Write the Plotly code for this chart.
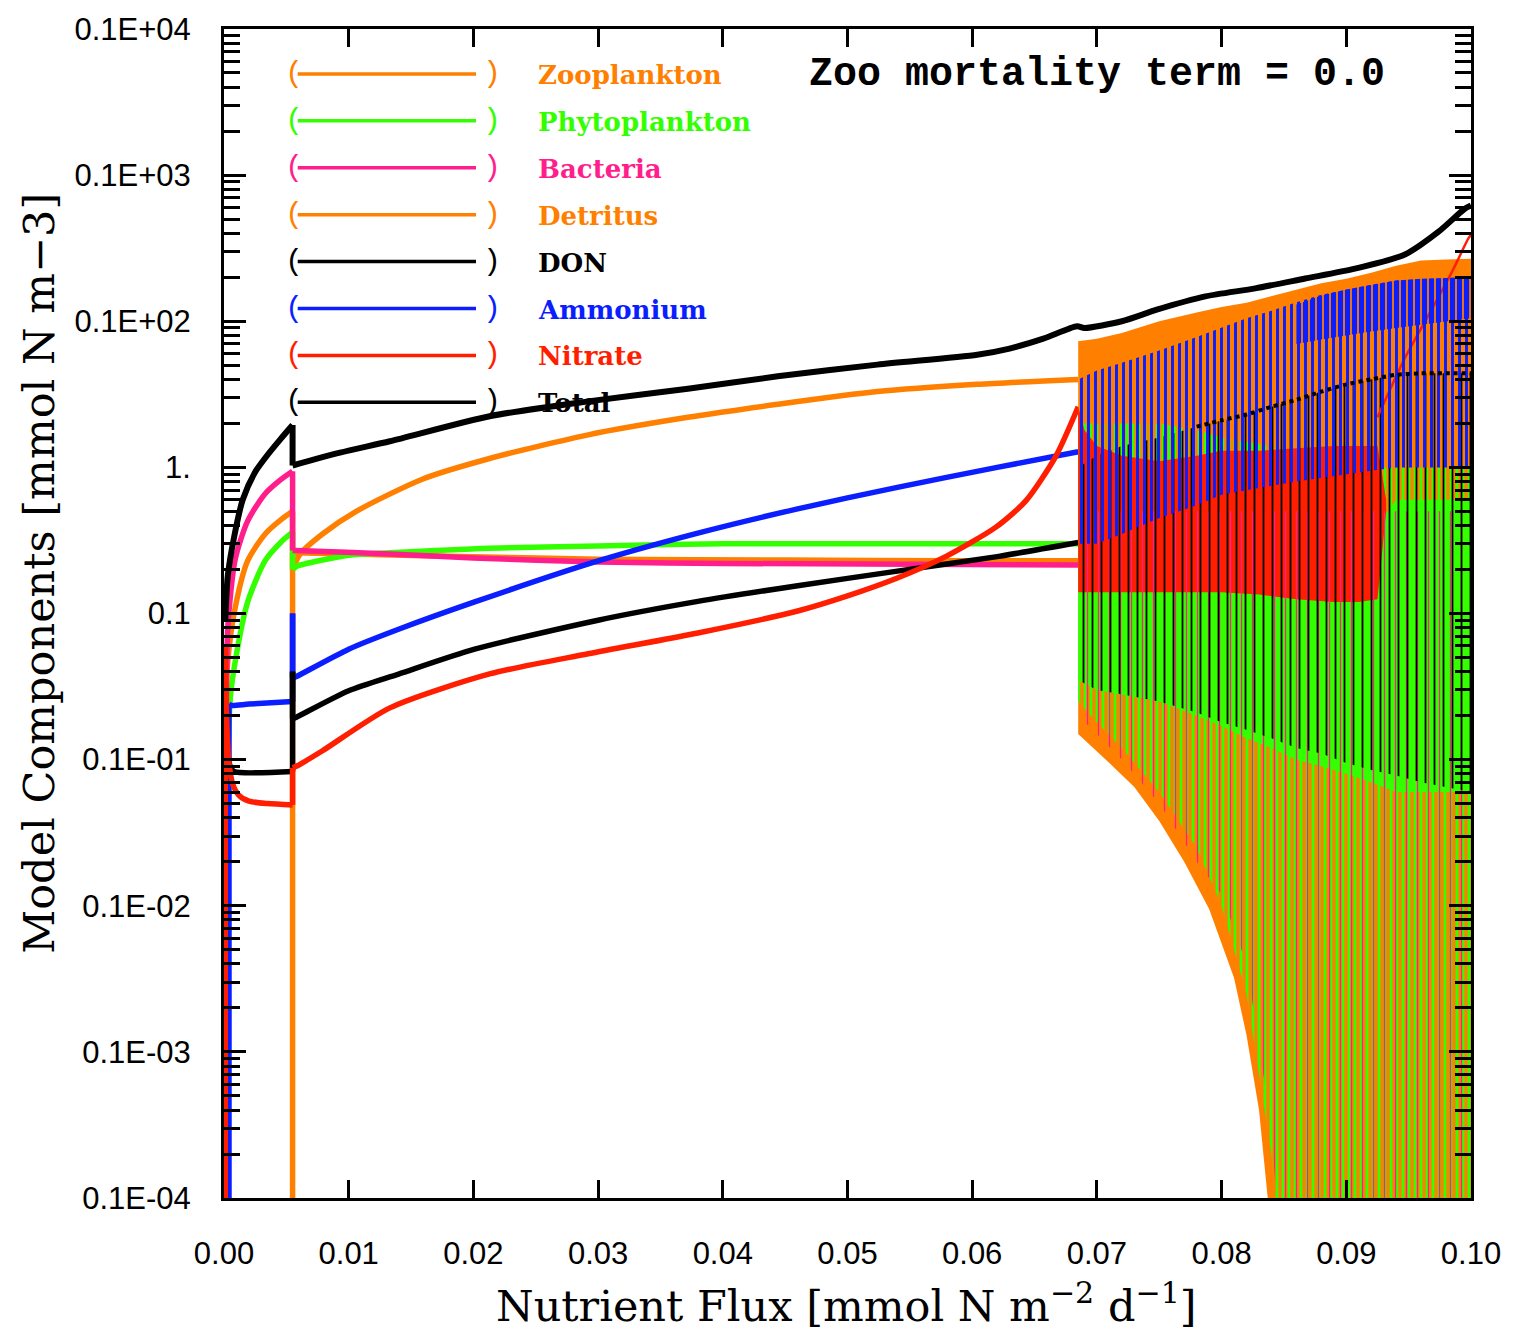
import plotly.graph_objects as go

# ---------------- colours ----------------
ORANGE = "#FF8000"
GREEN = "#33FF00"
PINK = "#FF1E8C"
BLUE = "#0A1EFF"
RED = "#FF1E00"
BLACK = "#000000"

# ---------------- smooth (pre-chaos) branches ----------------
det_x = [0.0001, 0.0003, 0.0009, 0.0019, 0.0033, 0.0046, 0.0055, 0.0055, 0.0061, 0.0079,
         0.0106, 0.0159, 0.0213, 0.0292, 0.0372, 0.0444, 0.0524, 0.0604, 0.0685]
det_y = [0.02, 0.047, 0.11, 0.23, 0.35, 0.44, 0.5, 0.2, 0.255, 0.35,
         0.5, 0.83, 1.15, 1.67, 2.2, 2.7, 3.3, 3.7, 4.0]

zoo_x = [0.0055, 0.0055, 0.0058, 0.0100, 0.0200, 0.0300, 0.0450, 0.0600, 0.0685]
zoo_y = [1e-7, 0.26, 0.26, 0.255, 0.245, 0.235, 0.232, 0.23, 0.23]

phy_x = [0.0002, 0.0005, 0.0009, 0.0019, 0.0033, 0.0046, 0.0055, 0.0055, 0.0058, 0.0100,
         0.0133, 0.0213, 0.0300, 0.0400, 0.0685]
phy_y = [0.003, 0.026, 0.047, 0.12, 0.23, 0.31, 0.36, 0.2, 0.21, 0.25,
         0.26, 0.28, 0.29, 0.30, 0.30]

bac_x = [0.0002, 0.0003, 0.0009, 0.0019, 0.0033, 0.0046, 0.0055, 0.0055, 0.0058, 0.0133,
         0.0200, 0.0300, 0.0400, 0.0685]
bac_y = [0.01, 0.079, 0.235, 0.43, 0.66, 0.83, 0.94, 0.27, 0.27, 0.255,
         0.24, 0.225, 0.22, 0.215]

nh4_x = [0.0004, 0.0004, 0.0006, 0.0020, 0.0055, 0.0055, 0.0055, 0.0058, 0.0100, 0.0140,
         0.0201, 0.0300, 0.0380, 0.0460, 0.0540, 0.0620, 0.0685]
nh4_y = [1e-7, 0.024, 0.0235, 0.024, 0.025, 0.1, 0.036, 0.037, 0.057, 0.078,
         0.12, 0.229, 0.355, 0.52, 0.73, 1.0, 1.28]

don_x = [0.0002, 0.0005, 0.0008, 0.0055, 0.0055, 0.0055, 0.0058, 0.0100, 0.0140, 0.0201,
         0.0300, 0.0380, 0.0460, 0.0540, 0.0620, 0.0685]
don_y = [0.012, 0.009, 0.0083, 0.0083, 0.04, 0.019, 0.0195, 0.0296, 0.0385, 0.057,
         0.09, 0.121, 0.155, 0.195, 0.245, 0.306]

no3_x = [0.0001, 0.0001, 0.0002, 0.0004, 0.0007, 0.0012, 0.0020, 0.0035, 0.0055, 0.0055,
         0.0058, 0.0079, 0.0133, 0.0213, 0.0292, 0.0380, 0.0460, 0.0500, 0.0540, 0.0579,
         0.0619, 0.0643, 0.0667, 0.0685]
no3_y = [1e-7, 0.06, 0.02, 0.0095, 0.0068, 0.0057, 0.0052, 0.005, 0.0049, 0.0088,
         0.009, 0.0115, 0.0226, 0.0386, 0.053, 0.0736, 0.104, 0.132, 0.175, 0.246,
         0.39, 0.59, 1.19, 2.6]

tot_x = [0.0001, 0.0003, 0.0008, 0.0015, 0.0025, 0.0035, 0.0045, 0.0055, 0.0055, 0.0093,
         0.0133, 0.0213, 0.0292, 0.0372, 0.0444, 0.0524, 0.0604, 0.0630, 0.0657, 0.0684,
         0.0690, 0.0720, 0.0748, 0.0787, 0.0827, 0.0867, 0.0907, 0.0947, 0.0974, 0.0995,
         0.1000]
tot_y = [0.09, 0.18, 0.33, 0.6, 0.93, 1.22, 1.55, 1.95, 1.03, 1.26,
         1.51, 2.24, 2.83, 3.45, 4.2, 5.05, 5.9, 6.5, 7.6, 9.25,
         9.0, 10.0, 12.0, 14.8, 16.8, 19.6, 22.9, 28.6, 41.0, 58.9,
         62.0]

# ---------------- oscillatory regime: envelopes ----------------
chaos_x = [0.0685, 0.070, 0.072, 0.075, 0.078, 0.080, 0.082, 0.084,
           0.086, 0.088, 0.090, 0.092, 0.094, 0.096, 0.098, 0.100]

zoo_env_x = [0.0685, 0.0695, 0.0710, 0.0730, 0.0750, 0.0770, 0.0790, 0.0810,
             0.0820, 0.0830, 0.0837, 0.0850, 0.1000]
zoo_env_lo = [0.015, 0.0125, 0.0095, 0.0065, 0.0038, 0.0020, 0.00095, 0.00032,
              0.00013, 0.00004, 0.00001, 1e-7, 1e-7]
zoo_env_hi = [1.5, 1.5, 1.5, 1.6, 1.7, 1.8, 1.9, 2.0, 2.0, 2.0, 2.0, 2.0, 2.0]

det_env_lo = [1.0, 1.0, 1.0, 1.0, 1.0, 1.0, 1.0, 1.0, 1.0, 1.0, 1.0, 1.0, 1.0, 1.0, 1.0, 1.0]
det_env_hi = [7.3, 7.6, 8.3, 10.0, 11.5, 12.5, 13.4, 14.8, 16.5, 18.2, 19.5, 21.5, 24.0, 26.0, 26.5, 26.8]

phy_env_lo = [0.025, 0.018, 0.012, 0.006, 0.0025, 0.001, 0.00025, 0.00002,
              1e-7, 1e-7, 1e-7, 1e-7, 1e-7, 1e-7, 1e-7, 1e-7]
phy_env_hi = [2.0, 2.0, 2.0, 2.0, 1.8, 1.6, 1.5, 1.4, 1.3, 1.2, 1.1, 1.0, 1.0, 1.0, 1.0, 1.0]

phy_core_lo = [0.035, 0.03, 0.028, 0.025, 0.02, 0.017, 0.014, 0.012,
               0.01, 0.009, 0.008, 0.007, 0.006, 0.006, 0.006, 0.006]
phy_core_hi = [0.3, 0.3, 0.3, 0.3, 0.3, 0.3, 0.3, 0.3, 0.3, 0.3, 0.3, 0.35, 0.6, 0.6, 0.6, 0.6]

no3_env_x = [0.0685, 0.0690, 0.0700, 0.0720, 0.0750, 0.0780, 0.0800, 0.0830,
             0.0860, 0.0890, 0.0910, 0.0925, 0.0932]
no3_env_lo = [0.14, 0.14, 0.14, 0.14, 0.14, 0.14, 0.14, 0.135, 0.125, 0.12, 0.12, 0.125, 0.5]
no3_env_hi = [2.6, 1.8, 1.4, 1.2, 1.1, 1.2, 1.3, 1.3, 1.35, 1.4, 1.4, 1.4, 0.6]

no3_max_x = [0.0925, 0.0947, 0.0966, 0.0985, 0.0998, 0.1000]
no3_max_y = [2.2, 5.6, 11.0, 22.0, 37.0, 39.0]

don_env_lo = [0.035, 0.03, 0.028, 0.025, 0.021, 0.018, 0.016, 0.014,
              0.012, 0.011, 0.0095, 0.0085, 0.0078, 0.007, 0.0065, 0.006]
don_env_hi = [1.0, 1.2, 1.4, 1.6, 1.9, 2.1, 2.3, 2.6, 2.9, 3.3, 3.7, 4.0, 4.3, 4.4, 4.4, 4.4]

nh4_env_lo = [0.3, 0.3, 0.35, 0.45, 0.55, 0.65, 0.7, 0.75, 0.8, 0.85, 0.9, 0.95, 1.0, 1.0, 1.0, 1.0]
nh4_env_hi = [4.0, 4.6, 5.2, 6.3, 7.8, 9.0, 10.5, 11.8, 13.5, 15.2, 16.5, 17.8, 19.0, 19.5, 19.8, 20.0]

nh4_core_x = [0.0860, 0.0880, 0.0900, 0.0920, 0.0940, 0.0960, 0.0980, 0.1000]
nh4_core_lo = [7.0, 7.5, 8.0, 8.5, 9.0, 9.5, 10.0, 10.5]
nh4_core_hi = [13.0, 15.0, 16.5, 17.8, 19.0, 19.5, 19.8, 20.0]

bac_env_lo = [0.02, 0.015, 0.01, 0.005, 0.002, 0.0012, 0.0004, 0.00003,
              1e-7, 1e-7, 1e-7, 1e-7, 1e-7, 1e-7, 1e-7, 1e-7]
bac_env_hi = [0.5, 0.5, 0.5, 0.5, 0.5, 0.5, 0.5, 0.5, 0.5, 0.5, 0.5, 0.5, 0.5, 0.5, 0.5, 0.5]

# ---------------- legend / labels ----------------
legend_names = ["Zooplankton", "Phytoplankton", "Bacteria", "Detritus",
                "DON", "Ammonium", "Nitrate", "Total"]
legend_colors = [ORANGE, GREEN, PINK, ORANGE, BLACK, BLUE, RED, BLACK]

y_tickvals = [1e-5, 1e-4, 1e-3, 1e-2, 1e-1, 1, 10, 100, 1000]
y_ticktext = ["0.1E-04", "0.1E-03", "0.1E-02", "0.1E-01", "0.1", "1.",
              "0.1E+02", "0.1E+03", "0.1E+04"]
x_tickvals = [0.00, 0.01, 0.02, 0.03, 0.04, 0.05, 0.06, 0.07, 0.08, 0.09, 0.10]
x_ticktext = ["0.00", "0.01", "0.02", "0.03", "0.04", "0.05", "0.06", "0.07", "0.08", "0.09", "0.10"]

LW = 5.5
fig = go.Figure()


def _trace(x, y, color, width, shape, dash="solid"):
    fig.add_trace(go.Scatter(x=x, y=y, mode="lines", showlegend=False, hoverinfo="skip",
                             line=dict(color=color, width=width, dash=dash, shape=shape,
                                       smoothing=0.7 if shape == "spline" else None)))


def line(x, y, color, width=LW, dash="solid"):
    # smooth runs of increasing x; straight vertical jumps where x repeats
    runs, cur = [], [0]
    for i in range(1, len(x)):
        if x[i] > x[i - 1]:
            cur.append(i)
        else:
            runs.append(cur)
            cur = [i]
    runs.append(cur)
    for k in range(len(runs) - 1):
        a, b = runs[k][-1], runs[k + 1][0]
        _trace([x[a], x[b]], [y[a], y[b]], color, width, "linear")
    for r in runs:
        if len(r) >= 2:
            _trace([x[i] for i in r], [y[i] for i in r], color, width, "spline", dash)


def band(x, lo, hi, color, solid=True, solidity=0.5, size=6):
    xs = list(x) + list(x)[::-1]
    ys = list(hi) + list(lo)[::-1]
    if solid:
        fig.add_trace(go.Scatter(x=xs, y=ys, mode="lines", fill="toself", fillcolor=color,
                                 line=dict(width=0, color=color), showlegend=False,
                                 hoverinfo="skip"))
    else:
        fig.add_trace(go.Scatter(x=xs, y=ys, mode="lines", fill="toself",
                                 fillcolor="rgba(0,0,0,0)",
                                 fillpattern=dict(shape="|", fgcolor=color,
                                                  bgcolor="rgba(0,0,0,0)",
                                                  size=size, solidity=solidity,
                                                  fillmode="replace"),
                                 line=dict(width=0, color="rgba(0,0,0,0)"),
                                 showlegend=False, hoverinfo="skip"))


# smooth branches
line(det_x, det_y, ORANGE)
line(zoo_x, zoo_y, ORANGE)
line(phy_x, phy_y, GREEN)
line(bac_x, bac_y, PINK)
line(nh4_x, nh4_y, BLUE)
line(don_x, don_y, BLACK)
line(no3_x, no3_y, RED)

# oscillatory regime
band(zoo_env_x, zoo_env_lo, zoo_env_hi, ORANGE)
band(chaos_x, det_env_lo, det_env_hi, ORANGE)
band(chaos_x, phy_env_lo, phy_env_hi, GREEN, solid=False, solidity=0.45, size=6)
band(chaos_x, phy_core_lo, phy_core_hi, GREEN)
band(no3_env_x, no3_env_lo, no3_env_hi, RED)
band(chaos_x, bac_env_lo, bac_env_hi, PINK, solid=False, solidity=0.12, size=11)
band(chaos_x, don_env_lo, don_env_hi, BLACK, solid=False, solidity=0.2, size=9)
line(no3_max_x, no3_max_y, RED, width=2.5)
band(chaos_x, nh4_env_lo, nh4_env_hi, BLUE, solid=False, solidity=0.42, size=7)
band(nh4_core_x, nh4_core_lo, nh4_core_hi, BLUE, solid=False, solidity=0.75, size=7)
line(chaos_x[4:], don_env_hi[4:], BLACK, width=4, dash="dot")
line(tot_x, tot_y, BLACK, width=6)

# ---------------- legend drawn as in the original ----------------
ann = []
shapes = []
PX0, PX1 = 224.0, 1476.0
PY0, PY1 = 27.0, 1198.0


def px(v):
    return (v - PX0) / (PX1 - PX0)


def py(v):
    return (PY1 - v) / (PY1 - PY0)


for i, (nm, col) in enumerate(zip(legend_names, legend_colors)):
    yy = 72 + 47 * i
    shapes.append(dict(type="line", xref="paper", yref="paper", x0=px(298), x1=px(477),
                       y0=py(yy), y1=py(yy), line=dict(color=col, width=3.5)))
    ann.append(dict(text="(", x=px(294), y=py(yy), xref="paper", yref="paper",
                    showarrow=False, xanchor="center", yanchor="middle",
                    font=dict(family="Liberation Mono", size=30, color=col)))
    ann.append(dict(text=")", x=px(493), y=py(yy), xref="paper", yref="paper",
                    showarrow=False, xanchor="center", yanchor="middle",
                    font=dict(family="Liberation Mono", size=30, color=col)))
    ann.append(dict(text="<b>%s</b>" % nm, x=px(537), y=py(yy + 1), xref="paper", yref="paper",
                    showarrow=False, xanchor="left", yanchor="middle",
                    font=dict(family="DejaVu Serif", size=26, color=col)))

ann.append(dict(text="<b>Zoo mortality term = 0.0</b>", x=px(1100), y=py(73),
                xref="paper", yref="paper", showarrow=False, xanchor="center",
                yanchor="middle", font=dict(family="Liberation Mono", size=40, color=BLACK)))
ann.append(dict(text="Model Components [mmol N m\u22123]", x=px(38), y=py(572),
                xref="paper", yref="paper", showarrow=False, xanchor="center",
                yanchor="middle", textangle=-90,
                font=dict(family="DejaVu Serif", size=43, color=BLACK)))
ann.append(dict(text="Nutrient Flux [mmol N m<sup>\u22122</sup> d<sup>\u22121</sup>]",
                x=px(849), y=py(1303), xref="paper", yref="paper", showarrow=False,
                xanchor="center", yanchor="middle",
                font=dict(family="DejaVu Serif", size=43, color=BLACK)))

fig.update_layout(
    width=1513, height=1338, autosize=False,
    margin=dict(l=224, r=37, t=27, b=140),
    paper_bgcolor="white", plot_bgcolor="white",
    showlegend=False,
    annotations=ann, shapes=shapes,
    xaxis=dict(range=[0, 0.1], tickvals=x_tickvals, ticktext=x_ticktext,
               ticks="inside", ticklen=18, tickwidth=3, tickcolor=BLACK,
               showline=True, linewidth=3, linecolor=BLACK, mirror="ticks",
               showgrid=False, zeroline=False, ticklabelstandoff=26,
               tickfont=dict(family="Liberation Sans", size=31, color=BLACK)),
    yaxis=dict(type="log", range=[-5, 3], tickvals=y_tickvals, ticktext=y_ticktext,
               ticks="inside", ticklen=22, tickwidth=3, tickcolor=BLACK,
               showline=True, linewidth=3, linecolor=BLACK, mirror="ticks",
               showgrid=False, zeroline=False, ticklabelstandoff=24,
               tickfont=dict(family="Liberation Sans", size=31, color=BLACK),
               minor=dict(ticks="inside", ticklen=16, tickwidth=2.5, tickcolor=BLACK,
                          dtick="D1", showgrid=False)),
)

fig.write_html("out.html")
